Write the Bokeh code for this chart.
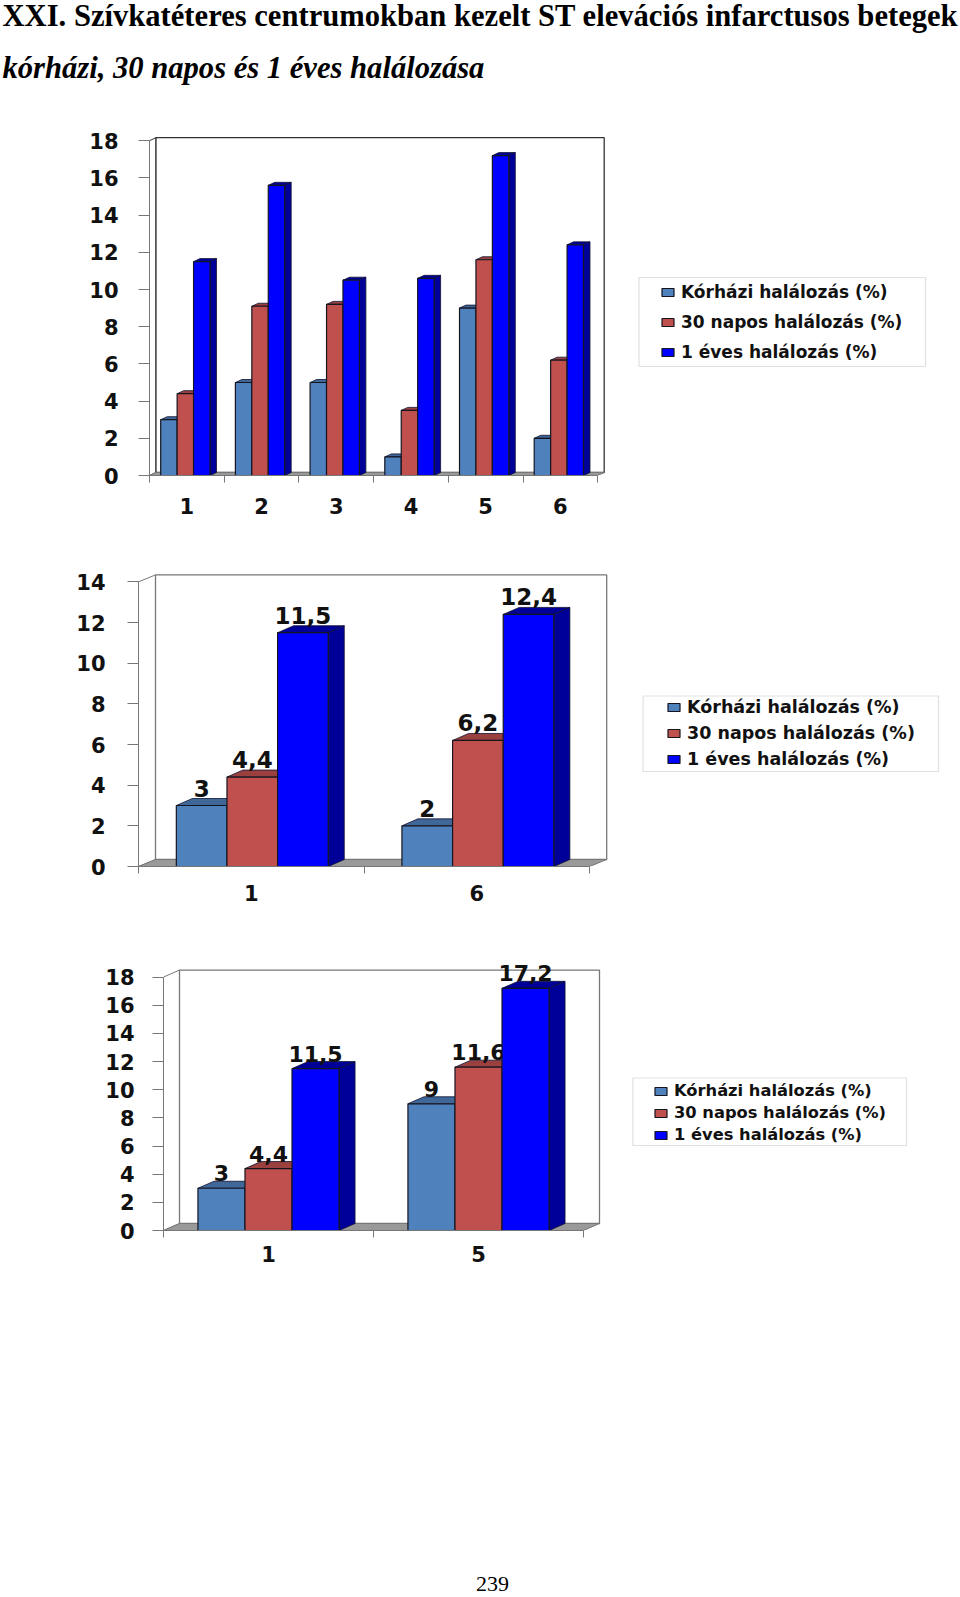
from bokeh.plotting import figure
from bokeh.layouts import column
from bokeh.models import (FixedTicker, Legend, LegendItem, LinearAxis, Range1d, BoxAnnotation)
from bokeh.core.properties import value
from bokeh.embed import file_html
from bokeh.resources import INLINE

TITLE = "XXI. Szívkatéteres centrumokban kezelt ST elevációs infarctusos betegek"
SUBTITLE = "kórházi, 30 napos és 1 éves halálozása"
PAGE_NO = "239"
SERIES = ["Kórházi halálozás (%)", "30 napos halálozás (%)", "1 éves halálozás (%)"]

c1_groups = ["1", "2", "3", "4", "5", "6"]
c1_korhazi = [3, 5, 5, 1, 9, 2]
c1_napos = [4.4, 9.1, 9.2, 3.5, 11.6, 6.2]
c1_eves = [11.5, 15.6, 10.5, 10.6, 17.2, 12.4]

c2_groups = ["1", "6"]
c2_korhazi = [3, 2]
c2_napos = [4.4, 6.2]
c2_eves = [11.5, 12.4]
c2_labels = [["3", "2"], ["4,4", "6,2"], ["11,5", "12,4"]]

c3_groups = ["1", "5"]
c3_korhazi = [3, 9]
c3_napos = [4.4, 11.6]
c3_eves = [11.5, 17.2]
c3_labels = [["3", "9"], ["4,4", "11,6"], ["11,5", "17,2"]]

FRONT = ["#4F81BD", "#C0504D", "#0000FF"]
DARK = ["#3F6797", "#9A403E", "#000099"]
FONT = value("DejaVu Sans")
W = 960


def chart(height, top, bottom, left, groups, series, ymax, ystep, px_group, px_unit,
          wall_dx, wall_dy, bar_dx, bar_dy, bar_w, bar_shift, labels, label_off, label_size,
          tick_size, y_standoff, x_standoff, wall_color,
          box, glyph_xy, legend_size, spacing):
    right = 10
    fw = W - left - right
    fh = height - top - bottom
    p = figure(width=W, height=height, output_backend="svg", toolbar_location=None,
               x_range=Range1d(0, fw / px_group), y_range=Range1d(0, fh / px_unit),
               min_border_left=left, min_border_right=right, min_border_top=top,
               min_border_bottom=bottom, x_axis_location=None, y_axis_location=None,
               outline_line_color=None, background_fill_color="white")
    p.grid.visible = False
    n = len(groups)
    wdx, wdy = wall_dx / px_group, wall_dy / px_unit
    bdx, bdy = bar_dx / px_group, bar_dy / px_unit

    # side wall and back wall
    p.patch([0, wdx, wdx, 0], [0, wdy, ymax + wdy, ymax], fill_color="white",
            line_color=wall_color, line_width=1)
    p.patch([wdx, n + wdx, n + wdx, wdx], [wdy, wdy, ymax + wdy, ymax + wdy],
            fill_color="white", line_color=wall_color, line_width=1.3)
    # floor
    p.patch([0, n, n + wdx, wdx], [0, 0, wdy, wdy], fill_color="#999999",
            line_color="#777777", line_width=1)

    w = bar_w
    shift = bar_shift / px_group
    rends = []
    for s, vals in enumerate(series):
        xs = [i + 0.5 + shift + (s - 1) * w for i in range(n)]
        xl = [x - w / 2 for x in xs]
        xr = [x + w / 2 for x in xs]
        # top face
        p.patches([[a, b, b + bdx, a + bdx] for a, b in zip(xl, xr)],
                  [[v, v, v + bdy, v + bdy] for v in vals],
                  fill_color=DARK[s], line_color="#111133", line_width=0.8)
        # side face
        p.patches([[b, b + bdx, b + bdx, b] for b in xr],
                  [[0, bdy, v + bdy, v] for v in vals],
                  fill_color=DARK[s], line_color="#111133", line_width=0.8)
        r = p.vbar(x=xs, top=vals, width=w, bottom=0, fill_color=FRONT[s],
                   line_color="#15151f", line_width=1.2)
        rends.append(r)
        if labels:
            p.text(x=xs, y=vals, text=labels[s], text_font=FONT, text_font_style="bold",
                   text_font_size=label_size, text_align="center", text_baseline="middle",
                   y_offset=-label_off, text_color="#111111")

    # axes
    yax = LinearAxis(ticker=FixedTicker(ticks=list(range(0, ymax + 1, ystep))),
                     bounds=(0, ymax), major_tick_out=11, major_tick_in=0,
                     major_tick_line_color="#777777", axis_line_color="#777777",
                     minor_tick_line_color=None,
                     major_label_text_font="DejaVu Sans", major_label_text_font_style="bold",
                     major_label_text_font_size=tick_size, major_label_text_color="#111111",
                     major_label_standoff=y_standoff)
    p.add_layout(yax, "left")
    centers = [i + 0.5 for i in range(n)]
    xax = LinearAxis(ticker=FixedTicker(ticks=centers, minor_ticks=list(range(n + 1))),
                     bounds=(0, n), major_tick_out=0, major_tick_in=0,
                     major_tick_line_color=None, minor_tick_out=7, minor_tick_in=0,
                     minor_tick_line_color="#777777", axis_line_color="#777777",
                     major_label_overrides=dict(zip(centers, groups)),
                     major_label_text_font="DejaVu Sans", major_label_text_font_style="bold",
                     major_label_text_font_size=tick_size, major_label_text_color="#111111",
                     major_label_standoff=x_standoff)
    p.add_layout(xax, "below")

    # legend: px positions relative to the frame
    bx0, bx1, by0, by1 = box  # frame px from left, from bottom
    p.add_layout(BoxAnnotation(left=bx0 / px_group, right=bx1 / px_group,
                               bottom=by0 / px_unit, top=by1 / px_unit,
                               fill_alpha=0, line_color="#999999", line_width=1.2,
                               level="underlay"))
    leg = Legend(items=[LegendItem(label=value(t), renderers=[r]) for t, r in zip(SERIES, rends)],
                 location=glyph_xy, orientation="vertical", border_line_color=None,
                 background_fill_alpha=0, padding=6, margin=0, spacing=spacing,
                 glyph_width=15, glyph_height=10, label_height=18, label_standoff=6,
                 label_text_font="DejaVu Sans", label_text_font_style="bold",
                 label_text_font_size=legend_size, label_text_color="#111111")
    p.add_layout(leg, "center")
    return p


head = figure(width=W, height=120, output_backend="svg", toolbar_location=None,
              x_range=Range1d(0, W), y_range=Range1d(120, 0), min_border=0,
              x_axis_location=None, y_axis_location=None, outline_line_color=None)
head.grid.visible = False
head.text(x=[2], y=[15], text=[TITLE], text_font=value("Liberation Serif"),
          text_font_style="bold", text_font_size="30.6px", text_baseline="middle",
          text_color="#000000")
head.text(x=[2], y=[67], text=[SUBTITLE], text_font=value("Liberation Serif"),
          text_font_style="bold italic", text_font_size="30.6px", text_baseline="middle",
          text_color="#000000")

c1 = chart(415, 5, 60, 149, c1_groups, [c1_korhazi, c1_napos, c1_eves], 18, 2, 74.7, 18.6,
           6.5, 3, 6.5, 3, 0.22, -1.5, None, 0, "21px", "21px", 20, 15, "#333333",
           (489.5, 776, 109, 198), (511, 113), "17px", 10)
c2 = chart(381, 5, 50, 138, c2_groups, [c2_korhazi, c2_napos, c2_eves], 14, 2, 225.6, 20.33,
           17, 7, 16, 7, 0.2245, 1, c2_labels, 17.5, "23px", "21px", 22, 11, "#777777",
           (504.6, 800, 95, 170.5), (528, 97), "17.5px", 6)
c3 = chart(355, 5, 41, 163, c3_groups, [c3_korhazi, c3_napos, c3_eves], 18, 2, 210, 14.08,
           16, 7, 16, 7, 0.224, 0, c3_labels, 15, "22px", "21px", 18, 8, "#777777",
           (469.4, 743, 85, 152.5), (490, 86), "16.3px", 3)

foot = figure(width=W, height=326, output_backend="svg", toolbar_location=None,
              x_range=Range1d(0, W), y_range=Range1d(326, 0), min_border=0,
              x_axis_location=None, y_axis_location=None, outline_line_color=None)
foot.grid.visible = False
foot.text(x=[492], y=[312], text=[PAGE_NO], text_font=value("Liberation Serif"),
          text_font_size="22px", text_align="center", text_baseline="middle",
          text_color="#000000")

page = column(column(head), column(c1), column(c2), column(c3), column(foot), spacing=0,
              styles={"position": "absolute", "left": "0", "top": "0"})
open("out.html", "w").write(file_html(page, INLINE))
